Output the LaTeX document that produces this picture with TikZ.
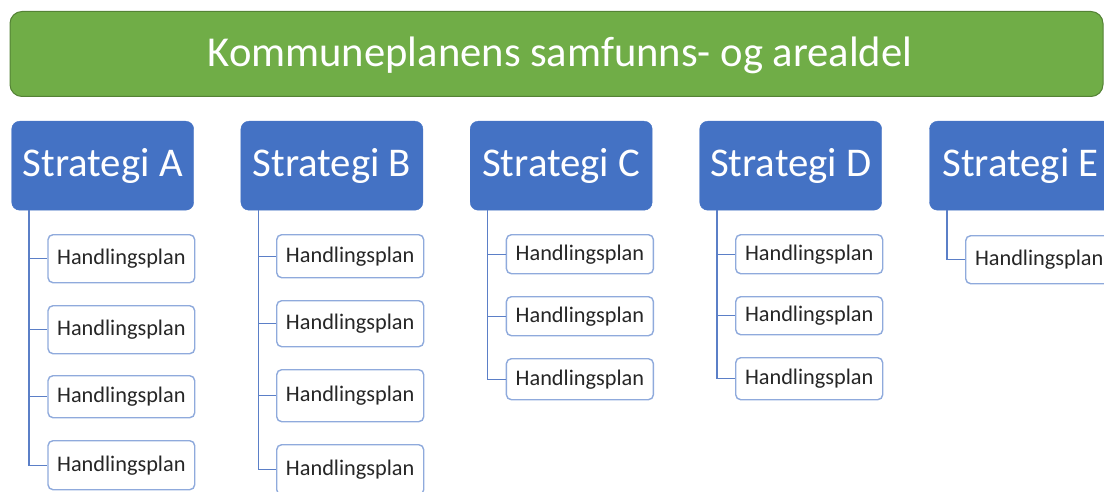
\documentclass[tikz,border=0pt]{standalone}
\usepackage{fontspec}
\setmainfont{Carlito}
\definecolor{bannergreen}{HTML}{70AD47}
\definecolor{bannerline}{HTML}{548235}
\definecolor{stratblue}{HTML}{4472C4}
\definecolor{hpline}{HTML}{8FAADC}
\definecolor{connblue}{HTML}{5B7FC7}
\begin{document}
\begin{tikzpicture}[x=1pt,y=-1pt,
  banner/.style={draw=bannerline,line width=1pt,fill=bannergreen,rounded corners=12pt,
    anchor=north west,inner sep=0pt},
  strat/.style={draw=stratblue,fill=stratblue,rounded corners=8pt,anchor=north west,
    inner sep=0pt,minimum width=182pt,minimum height=89pt,text=white,font=\fontsize{40.8}{46}\selectfont},
  hp/.style={draw=hpline,line width=1.4pt,fill=white,rounded corners=5pt,anchor=north west,
    inner sep=0pt,text=black!85,font=\fontsize{22.3}{26}\selectfont},
  conn/.style={draw=connblue,line width=1.4pt}]
\useasboundingbox (0,0) rectangle (1104,492);
\clip (0,0) rectangle (1104,492);
% banner
\node[banner,minimum width=1093pt,minimum height=85pt] (ban) at (9.5,11) {};
\node[text=white,anchor=base,inner sep=0pt,font=\fontsize{42.6}{48}\selectfont] (title) at (560,66.7) {Kommuneplanens samfunns- og arealdel};
% strategies
\node[strat] (sA) at (11.5,121) {Strategi A};
\node[strat] (sB) at (240.7,121) {Strategi B};
\node[strat] (sC) at (470,121) {Strategi C};
\node[strat] (sD) at (699.5,121) {Strategi D};
\node[strat] (sE) at (929.3,121) {Strategi E};
% A
\node[hp,minimum width=146.7pt,minimum height=48pt] (a1) at (47.3,234) {Handlingsplan};
\node[hp,minimum width=146.7pt,minimum height=48pt] (a2) at (47.3,305) {Handlingsplan};
\node[hp,minimum width=146.7pt,minimum height=42pt] (a3) at (47.3,375) {Handlingsplan};
\node[hp,minimum width=146.7pt,minimum height=49pt] (a4) at (47.3,440) {Handlingsplan};
% B
\node[hp,minimum width=147pt,minimum height=43pt] (b1) at (276,234) {Handlingsplan};
\node[hp,minimum width=147pt,minimum height=46pt] (b2) at (276,300) {Handlingsplan};
\node[hp,minimum width=147pt,minimum height=52pt] (b3) at (276,369) {Handlingsplan};
\node[hp,minimum width=147pt,minimum height=50pt] (b4) at (276,444) {Handlingsplan};
% C
\node[hp,minimum width=147pt,minimum height=39pt] (c1) at (505.7,234) {Handlingsplan};
\node[hp,minimum width=147pt,minimum height=39pt] (c2) at (505.7,296) {Handlingsplan};
\node[hp,minimum width=147pt,minimum height=41pt] (c3) at (505.7,358) {Handlingsplan};
% D
\node[hp,minimum width=147pt,minimum height=39pt] (d1) at (735,234) {Handlingsplan};
\node[hp,minimum width=147pt,minimum height=38pt] (d2) at (735,296) {Handlingsplan};
\node[hp,minimum width=147pt,minimum height=42pt] (d3) at (735,357) {Handlingsplan};
% E
\node[hp,minimum width=147pt,minimum height=48pt] (e1) at (965,235) {Handlingsplan};
% connectors
\foreach \s/\kids in {sA/{a1,a2,a3,a4},sB/{b1,b2,b3,b4},sC/{c1,c2,c3},sD/{d1,d2,d3},sE/{e1}}{
  \foreach \k in \kids {
    \draw[conn] ([xshift=17.5pt]\s.south west) |- (\k.west);
  }
}
\end{tikzpicture}
\end{document}
